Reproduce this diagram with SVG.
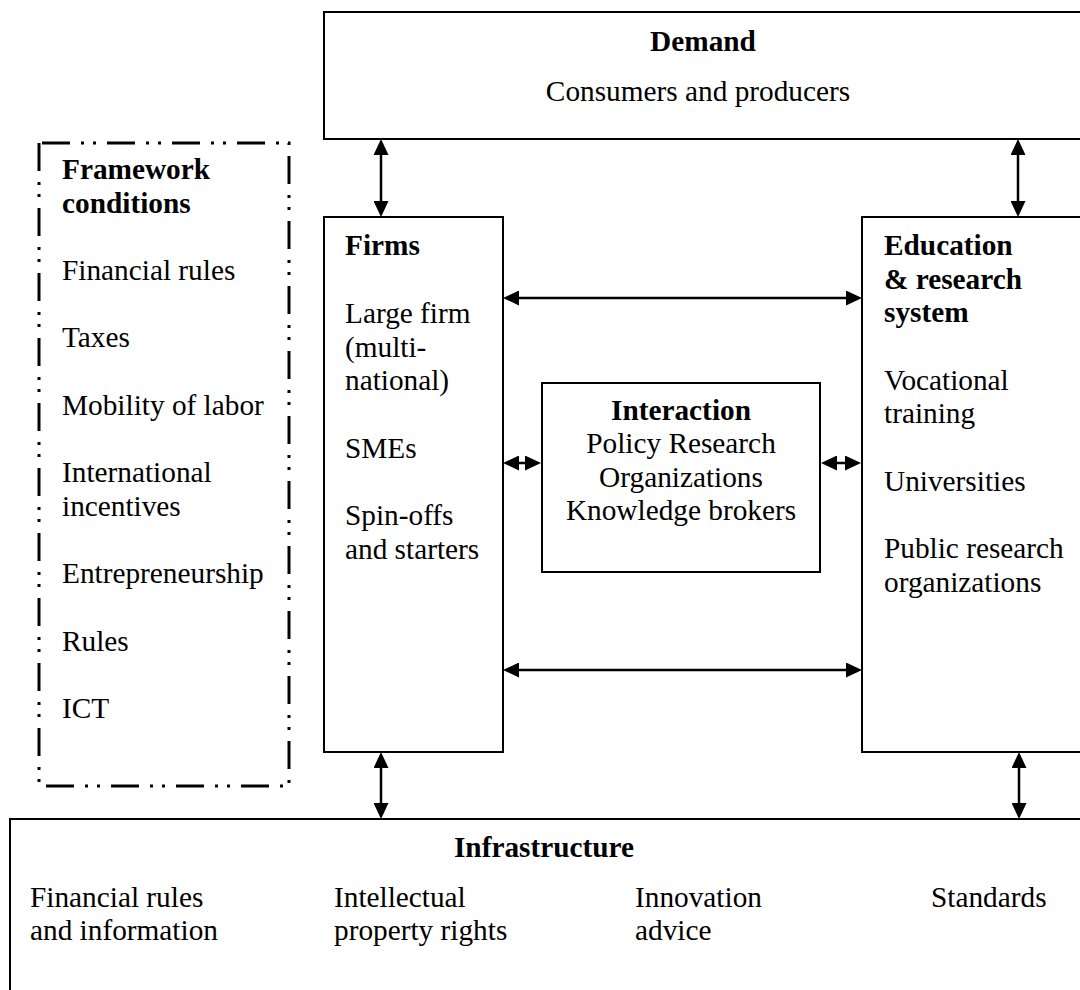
<svg xmlns="http://www.w3.org/2000/svg" width="1080" height="990" viewBox="0 0 1080 990">
  <style>
    text { font-family: "Liberation Serif", "Times New Roman", serif; font-size: 29.3px; fill: #000; }
    .b { font-weight: bold; }
    .c { text-anchor: middle; }
    .box { fill: #fff; stroke: #000; stroke-width: 2; }
    .frame { fill: none; stroke: #000; stroke-width: 3; stroke-dasharray: 28 11 3 9 3 11; }
    .link { fill: none; stroke: #000; stroke-width: 2.5; marker-start: url(#head); marker-end: url(#head); }
  </style>
  <defs>
    <marker id="head" markerUnits="userSpaceOnUse" markerWidth="16" markerHeight="15" refX="8" refY="7.5" orient="auto-start-reverse">
      <path d="M0,0 L16,7.5 L0,15 Z" fill="#000"/>
    </marker>
  </defs>
  <rect width="1080" height="990" fill="#fff"/>

  <!-- Demand -->
  <g id="demand">
    <rect class="box" x="324" y="12" width="800" height="127"/>
    <text class="b c" x="703" y="51">Demand</text>
    <text class="c" x="698" y="101">Consumers and producers</text>
  </g>

  <!-- Framework conditions (dash-dot-dot border) -->
  <g id="framework">
    <path class="frame" d="M39,143 L39,786 L289,786 L289,143 Z"/>
    <text class="b" x="62" y="179">Framework</text>
    <text class="b" x="62" y="213">conditions</text>
    <text x="62" y="280">Financial rules</text>
    <text x="62" y="347">Taxes</text>
    <text x="62" y="415">Mobility of labor</text>
    <text x="62" y="482">International</text>
    <text x="62" y="516">incentives</text>
    <text x="62" y="583">Entrepreneurship</text>
    <text x="62" y="651">Rules</text>
    <text x="62" y="718">ICT</text>
  </g>

  <!-- Firms -->
  <g id="firms">
    <rect class="box" x="324" y="217" width="179" height="535"/>
    <text class="b" x="345" y="255">Firms</text>
    <text x="345" y="323">Large firm</text>
    <text x="345" y="357">(multi-</text>
    <text x="345" y="390">national)</text>
    <text x="345" y="458">SMEs</text>
    <text x="345" y="525">Spin-offs</text>
    <text x="345" y="559">and starters</text>
  </g>

  <!-- Education & research system -->
  <g id="education">
    <rect class="box" x="862" y="217" width="300" height="535"/>
    <text class="b" x="884" y="255">Education</text>
    <text class="b" x="884" y="289">&amp; research</text>
    <text class="b" x="884" y="322">system</text>
    <text x="884" y="390">Vocational</text>
    <text x="884" y="423">training</text>
    <text x="884" y="491">Universities</text>
    <text x="884" y="558">Public research</text>
    <text x="884" y="592">organizations</text>
  </g>

  <!-- Interaction -->
  <g id="interaction">
    <rect class="box" x="542" y="383" width="278" height="189"/>
    <text class="b c" x="681" y="420">Interaction</text>
    <text class="c" x="681" y="453">Policy Research</text>
    <text class="c" x="681" y="487">Organizations</text>
    <text class="c" x="681" y="520">Knowledge brokers</text>
  </g>

  <!-- Infrastructure -->
  <g id="infrastructure">
    <rect class="box" x="10" y="819" width="1100" height="200"/>
    <text class="b c" x="544" y="857">Infrastructure</text>
    <text x="30" y="907">Financial rules</text>
    <text x="30" y="940">and information</text>
    <text x="334" y="907">Intellectual</text>
    <text x="334" y="940">property rights</text>
    <text x="635" y="907">Innovation</text>
    <text x="635" y="940">advice</text>
    <text x="931" y="907">Standards</text>
  </g>

  <!-- Two-way connectors (lines end 8px short of each arrow tip) -->
  <g id="connectors">
    <line class="link" x1="381" y1="147" x2="381" y2="209"/>
    <line class="link" x1="1018" y1="147" x2="1018" y2="209"/>
    <line class="link" x1="511" y1="298" x2="854" y2="298"/>
    <line class="link" x1="511" y1="670" x2="854" y2="670"/>
    <line class="link" x1="511" y1="463" x2="533" y2="463"/>
    <line class="link" x1="829" y1="463" x2="853" y2="463"/>
    <line class="link" x1="381" y1="760" x2="381" y2="811"/>
    <line class="link" x1="1019" y1="760" x2="1019" y2="811"/>
  </g>
</svg>
